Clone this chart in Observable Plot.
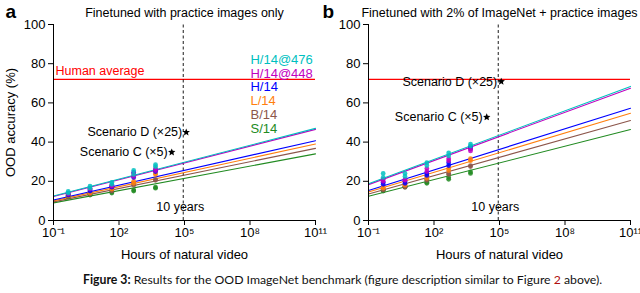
<!DOCTYPE html>
<html><head><meta charset="utf-8">
<script src="https://cdn.jsdelivr.net/npm/d3@7"></script>
<script src="https://cdn.jsdelivr.net/npm/@observablehq/plot@0.6"></script>
<style>
body{margin:0;background:#fff;}
#wrap{position:relative;width:640px;height:293px;overflow:hidden;font-family:"Liberation Sans",Arial,sans-serif;}
#left{position:absolute;left:0;top:0;}
#right{position:absolute;left:320px;top:0;}
#cap{position:absolute;left:83px;top:272px;white-space:nowrap;font-family:"Lato","DejaVu Sans",sans-serif;font-size:12.25px;color:#111;}
</style></head>
<body><div id="wrap"><div id="left"></div><div id="right"></div>
<div id="cap"><b>Figure 3:</b> Results for the OOD ImageNet benchmark (figure description similar to Figure <span style="color:#b01010">2</span> above).</div></div>
<script>
const models = ["H/14@476","H/14@448","H/14","L/14","B/14","S/14"];
const colors = ["#00bfbf","#bf00bf","#0000ff","#ff7f0e","#8c564b","#228b22"];
const hours = [0.47, 4.7, 47, 470, 4700];
const xTicks = [1e-1, 1e2, 1e5, 1e8, 1e11];
const xTickLabels = ["10\u207B\u00B9","10\u00B2","10\u2075","10\u2078","10\u00B9\u00B9"];
const yTicks = [0,20,40,60,80,100];
const humanAverage = 72;
const tenYears = 87600;

// panel a: fit lines (value at 1e-1, value at 1e11)
const aLineStart = [12.5, 12.2, 10.5, 10.0, 9.5, 9.0];
const aLineEnd   = [47.0, 46.5, 40.7, 39.0, 36.8, 34.0];
// panel a: points per model per hours (two seeds)
const aPts1 = [
  [14.8, 17.5, 19.5, 25.5, 28.5],
  [14.0, 16.5, 18.0, 24.0, 26.5],
  [13.5, 15.5, 17.5, 24.5, 25.5],
  [13.0, 14.5, 16.5, 20.0, 24.0],
  [12.5, 14.0, 15.5, 19.0, 21.0],
  [12.5, 13.5, 14.5, 15.5, 17.0]];
const aPts2 = [
  [14.0, 16.5, 18.5, 23.5, 27.5],
  [13.5, 16.0, 17.5, 22.5, 25.5],
  [13.0, 15.0, 17.0, 22.0, 25.0],
  [12.8, 14.0, 16.0, 19.0, 23.5],
  [12.2, 13.5, 15.0, 18.0, 20.5],
  [12.0, 13.0, 14.0, 15.0, 16.5]];

// panel b
const bLineStart = [18.7, 18.3, 15.3, 14.5, 13.5, 12.4];
const bLineEnd   = [68.4, 67.5, 57.3, 54.7, 51.0, 46.4];
const bPts1 = [
  [24.0, 24.0, 29.5, 34.5, 39.0],
  [21.0, 21.0, 26.5, 31.5, 36.5],
  [19.5, 20.0, 24.0, 29.5, 37.5],
  [17.0, 18.5, 22.5, 26.5, 31.5],
  [16.0, 17.5, 21.0, 24.0, 28.0],
  [15.3, 17.5, 19.5, 22.0, 24.8]];
const bPts2 = [
  [22.0, 22.5, 28.0, 33.0, 38.0],
  [20.0, 20.5, 25.0, 30.5, 35.5],
  [18.5, 19.0, 23.0, 28.0, 36.5],
  [16.5, 18.0, 21.5, 25.5, 30.5],
  [15.5, 17.0, 20.5, 23.5, 27.5],
  [15.0, 17.0, 19.0, 21.0, 24.0]];

const scenarioLabels = ["Scenario D (\u00D725)", "Scenario C (\u00D75)"];
const scenarioX = [1.2e5, 2.6e4];
const aScenarioY = [45, 34.8];
const bScenarioY = [70.9, 52.7];

const legendY = [82, 75, 68, 61, 54, 47];
const legendX = 1.05e8;

function buildLines(start, end) {
  const rows = [];
  models.forEach((m, i) => {
    rows.push({model: m, x: 1e-1, y: start[i]});
    rows.push({model: m, x: 1e11, y: end[i]});
  });
  return rows;
}
function buildPts(p1, p2) {
  const rows = [];
  for (let i = models.length - 1; i >= 0; i--) {
    hours.forEach((h, j) => {
      rows.push({model: models[i], x: h, y: p2[i][j]});
      rows.push({model: models[i], x: h, y: p1[i][j]});
    });
  }
  return rows;
}

const star = {
  draw(context, size) {
    const n = 5, R = Math.sqrt(size / Math.PI) * 1.3, ri = R * 0.45;
    for (let k = 0; k < 2 * n; k++) {
      const rr = k % 2 ? ri : R;
      const a = -Math.PI / 2 + k * Math.PI / n;
      const px = rr * Math.cos(a), py = rr * Math.sin(a);
      if (k === 0) context.moveTo(px, py); else context.lineTo(px, py);
    }
    context.closePath();
  }
};

function panel(opts) {
  const {letter, letterX, title, start, end, p1, p2, scenY, marginLeft, marginRight, showHuman, showLegend, showYLabel} = opts;
  const lines = buildLines(start, end);
  const pts = buildPts(p1, p2);
  const scen = scenarioLabels.map((t, i) => ({t, x: scenarioX[i], y: scenY[i]}));
  const marks = [
    Plot.ruleY([humanAverage], {x1: 1e-1, x2: 1e11, stroke: "#ff0000", strokeWidth: 1.3}),
    Plot.ruleX([tenYears], {y1: 0, y2: 100, stroke: "#000", strokeDasharray: "3,2.5", strokeWidth: 0.9}),
    Plot.line(lines.slice().reverse(), {x: "x", y: "y", z: "model", stroke: "model", strokeWidth: 1.1}),
    Plot.dot(pts, {x: "x", y: "y", fill: "model", r: 2.4, fillOpacity: 0.85}),
    Plot.dot(scen, {x: "x", y: "y", symbol: star, r: 3, fill: "#000"}),
    Plot.text(scen, {x: "x", y: "y", text: "t", textAnchor: "end", dx: -4, fontSize: 12.5, fill: "#000"}),
    Plot.text(["10 years"], {x: tenYears, y: 7, dx: -3, fontSize: 12.5, fill: "#000"}),
    Plot.ruleX([1e-1], {y1: 0, y2: 100, stroke: "#000", strokeWidth: 1}),
    Plot.ruleY([0], {x1: 1e-1, x2: 1e11, stroke: "#000", strokeWidth: 1}),
    Plot.axisY({ticks: yTicks, tickSize: 5, tickPadding: 3, label: null, fontSize: 13}),
    Plot.axisX({ticks: xTicks, tickFormat: (d) => xTickLabels[xTicks.indexOf(d)], tickSize: 5, tickPadding: 2, label: null, fontSize: 13}),
    Plot.text(["Hours of natural video"], {frameAnchor: "bottom", dy: 34, lineAnchor: "middle", fontSize: 13, fill: "#000"}),
    Plot.text([title], {frameAnchor: "top", dy: -12, lineAnchor: "middle", fontSize: 12.5, fill: "#000"}),
    Plot.text([letter], {frameAnchor: "top-left", dx: letterX - marginLeft, dy: -13, lineAnchor: "middle", fontSize: 19, fontWeight: "bold", fill: "#000"})
  ];
  if (showHuman) marks.push(Plot.text(["Human average"], {x: 1e-1, y: humanAverage, dx: 2, dy: -8, textAnchor: "start", fontSize: 12.5, fill: "#ff0000"}));
  if (showLegend) marks.push(Plot.text(models.map((m, i) => ({m, y: legendY[i]})), {x: legendX, y: "y", text: "m", fill: "m", textAnchor: "start", fontSize: 13}));
  if (showYLabel) marks.push(Plot.text(["OOD accuracy (%)"], {frameAnchor: "left", dx: -43, rotate: -90, textAnchor: "middle", lineAnchor: "middle", fontSize: 13, fill: "#000"}));
  return Plot.plot({
    width: 320, height: 270,
    marginLeft, marginRight, marginTop: 24, marginBottom: 50,
    style: {fontFamily: "Liberation Sans, Arial, sans-serif", fontSize: "13px", color: "#000", background: "transparent", overflow: "visible"},
    x: {type: "log", domain: [1e-1, 1e11]},
    y: {domain: [0, 100]},
    color: {domain: models, range: colors},
    marks
  });
}

document.getElementById("left").append(panel({
  letter: "a", letterX: 5, title: "Finetuned with practice images only",
  start: aLineStart, end: aLineEnd, p1: aPts1, p2: aPts2, scenY: aScenarioY,
  marginLeft: 53, marginRight: 5, showHuman: true, showLegend: true, showYLabel: true
}));
document.getElementById("right").append(panel({
  letter: "b", letterX: 2, title: "Finetuned with 2% of ImageNet + practice images",
  start: bLineStart, end: bLineEnd, p1: bPts1, p2: bPts2, scenY: bScenarioY,
  marginLeft: 48, marginRight: 10, showHuman: false, showLegend: false, showYLabel: false
}));
</script></body></html>
